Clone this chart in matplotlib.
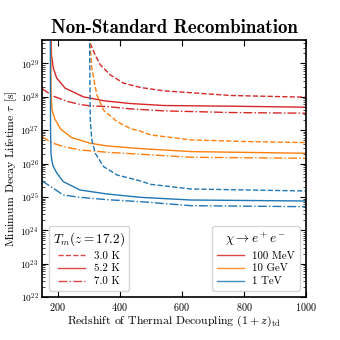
import matplotlib
matplotlib.use("Agg")
import matplotlib.pyplot as plt
import numpy as np

plt.rcParams['font.family'] = 'cmr10'
plt.rcParams['mathtext.fontset'] = 'cm'
plt.rcParams['axes.formatter.use_mathtext'] = True
plt.rcParams['axes.unicode_minus'] = False

# (1+z)_td and log10(tau / s)
red_solid_z = [176.5, 180, 186, 197, 224, 283, 350, 434, 542, 758, 1000]
red_solid_t = [31, 29.25, 28.86, 28.56, 28.26, 28.0, 27.88, 27.8, 27.74, 27.72, 27.69]
red_dashed_z = [301.5, 305, 321, 337, 369, 412, 467, 542, 650, 758, 1000]
red_dashed_t = [31, 29.6, 29.25, 28.96, 28.66, 28.41, 28.28, 28.18, 28.11, 28.04, 27.99]
red_dashdot_z = [150, 153, 186, 229, 272, 305, 359, 434, 542, 758, 1000]
red_dashdot_t = [28.28, 28.22, 28.02, 27.87, 27.77, 27.73, 27.71, 27.64, 27.58, 27.53, 27.51]

orange_solid_z = [176.5, 179, 182, 191, 210, 245, 305, 359, 467, 629, 1000]
orange_solid_t = [31, 28.0, 27.6, 27.33, 27.03, 26.78, 26.61, 26.53, 26.45, 26.36, 26.31]
orange_dashed_z = [301.5, 303, 310, 326, 348, 391, 434, 467, 499, 629, 813, 1000]
orange_dashed_t = [31, 29.7, 28.86, 28.06, 27.6, 27.26, 27.05, 26.97, 26.86, 26.71, 26.66, 26.63]
orange_dashdot_z = [150, 153, 186, 218, 272, 359, 467, 629, 1000]
orange_dashdot_t = [26.85, 26.78, 26.61, 26.51, 26.41, 26.34, 26.28, 26.19, 26.16]

blue_solid_z = [176.2, 177, 178.5, 182, 186, 197, 218, 272, 359, 467, 629, 1000]
blue_solid_t = [31, 27.0, 26.3, 26.05, 25.91, 25.72, 25.46, 25.21, 25.09, 24.99, 24.91, 24.88]
blue_dashed_z = [301.5, 305, 310, 321, 348, 391, 467, 499, 629, 813, 1000]
blue_dashed_t = [31, 27.3, 26.71, 26.31, 25.91, 25.66, 25.48, 25.38, 25.24, 25.21, 25.18]
blue_dashdot_z = [150, 153, 186, 218, 272, 359, 467, 629, 1000]
blue_dashdot_t = [25.5, 25.46, 25.26, 25.06, 24.99, 24.92, 24.86, 24.74, 24.71]

temps = ['3.0 K', '5.2 K', '7.0 K']
masses = ['100 MeV', '10 GeV', '1 TeV']
colors = ['#d62728', '#ff7f0e', '#1f77b4']

curves = [
    (red_dashed_z, red_dashed_t, red_solid_z, red_solid_t, red_dashdot_z, red_dashdot_t),
    (orange_dashed_z, orange_dashed_t, orange_solid_z, orange_solid_t, orange_dashdot_z, orange_dashdot_t),
    (blue_dashed_z, blue_dashed_t, blue_solid_z, blue_solid_t, blue_dashdot_z, blue_dashdot_t),
]
styles = ['--', '-', '-.']

fig = plt.figure(figsize=(3.4, 3.4), dpi=100)
ax = fig.add_axes([0.124, 0.126, 0.776, 0.756])

for c, data in zip(colors, curves):
    for k in range(3):
        z = np.array(data[2 * k])
        t = 10.0 ** np.array(data[2 * k + 1])
        ax.plot(z, t, color=c, ls=styles[k], lw=1.0)

ax.set_yscale('log')
ax.set_xlim(150, 1000)
ax.set_ylim(1e22, 5e29)
ax.set_xticks([200, 400, 600, 800, 1000])
ax.set_yticks([10.0 ** p for p in range(22, 30)])
ax.tick_params(which='both', direction='in', top=True, right=True, labelsize=6.8)
ax.tick_params(axis='x', labelsize=7.3)
ax.tick_params(which='major', length=4, width=0.8, pad=2.5)
ax.tick_params(which='minor', length=2, width=0.5)
for s in ax.spines.values():
    s.set_linewidth(1.2)

ax.set_title('Non-Standard Recombination', fontfamily='cmb10', fontsize=13.6, pad=5)
ax.set_xlabel(r'Redshift of Thermal Decoupling $(1+z)_{\rm td}$', fontsize=8.5, labelpad=1)
ax.set_ylabel(r'Minimum Decay Lifetime $\tau$ [s]', fontsize=8.5, labelpad=1)

h1 = [plt.Line2D([], [], color=colors[0], ls=s, lw=1.0, alpha=0.85) for s in styles]
leg1 = ax.legend(h1, temps, title=r'$T_m(z=17.2)$', loc='lower left', fontsize=7.8,
                 title_fontsize=9.5, handlelength=2.5, borderaxespad=0.6, labelspacing=0.3)
ax.add_artist(leg1)
h2 = [plt.Line2D([], [], color=c, ls='-', lw=1.0, alpha=0.85) for c in colors]
ax.legend(h2, masses, title=r'$\chi \to e^+e^-$', loc='lower right', fontsize=7.8,
          title_fontsize=9.5, handlelength=2.5, borderaxespad=0.6, labelspacing=0.3)

fig.savefig('out.png', dpi=100)
